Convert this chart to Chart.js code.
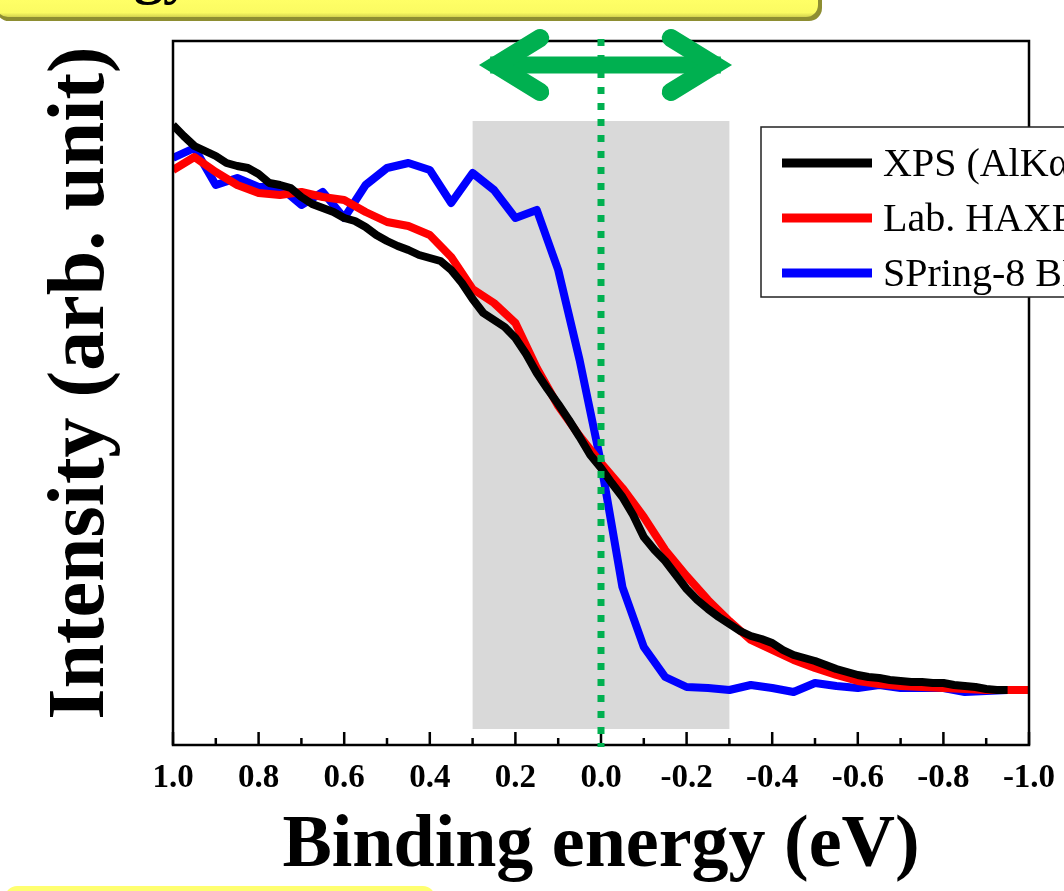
<!DOCTYPE html>
<html><head><meta charset="utf-8">
<script src="https://cdn.jsdelivr.net/npm/chart.js@4.4.1/dist/chart.umd.min.js"></script>
<style>html,body{margin:0;padding:0;background:#fff;overflow:hidden}#wrap{width:1064px;height:891px}</style>
</head><body><div id="wrap"><canvas id="c" width="1064" height="891"></canvas></div>
<script>
const seriesLabels = ['XPS (AlKα)', 'Lab. HAXPES', 'SPring-8 BL46XU'];
const seriesColors = ['#000000', '#ff0000', '#0000ff'];

const xpsEnergy = [1.0,0.975,0.95,0.925,0.9,0.875,0.85,0.825,0.8,0.775,0.75,0.725,0.7,0.675,0.65,0.625,0.6,0.575,0.55,0.525,0.5,0.475,0.45,0.425,0.4,0.375,0.35,0.325,0.3,0.275,0.25,0.225,0.2,0.175,0.15,0.125,0.1,0.075,0.05,0.025,0,-0.025,-0.05,-0.075,-0.1,-0.125,-0.15,-0.175,-0.2,-0.225,-0.25,-0.275,-0.3,-0.325,-0.35,-0.375,-0.4,-0.425,-0.45,-0.475,-0.5,-0.525,-0.55,-0.575,-0.6,-0.625,-0.65,-0.675,-0.7,-0.725,-0.75,-0.775,-0.8,-0.825,-0.85,-0.875,-0.9,-0.925,-0.95];
const xpsIntensity = [620,609,599,594,589,582,579,577,571,562,560,557,548,541,537,533,527,524,518,510,504,499,495,490,487,484,475,462,446,432,425,418,407,391,372,356,341,325,308,290,277,262,248,230,208,195,184,170,156,145,136,128,121,114,109,106,102,95,90,87,84,80,76,73,70,68,67,65,64,63,63,62,62,60,59,58,56,55,55];

const labEnergy = [1.0,0.95,0.9,0.85,0.8,0.75,0.7,0.65,0.6,0.55,0.5,0.45,0.4,0.35,0.3,0.25,0.2,0.15,0.1,0.05,0,-0.05,-0.1,-0.15,-0.2,-0.25,-0.3,-0.35,-0.4,-0.45,-0.5,-0.55,-0.6,-0.65,-0.7,-0.75,-0.8,-0.85,-0.9,-0.95,-1.0];
const labIntensity = [575,588,573,560,552,550,553,548,545,533,523,519,510,488,456,442,422,377,339,309,282,257,228,195,169,145,124,105,95,85,77,70,64,61,59,58,57,56,55,55,55];

const spEnergy = [1.0,0.95,0.9,0.85,0.8,0.75,0.7,0.65,0.6,0.55,0.5,0.45,0.4,0.35,0.3,0.25,0.2,0.15,0.1,0.05,0,-0.05,-0.1,-0.15,-0.2,-0.25,-0.3,-0.35,-0.4,-0.45,-0.5,-0.55,-0.6,-0.65,-0.7,-0.75,-0.8,-0.85,-0.9,-0.95];
const spIntensity = [587,597,560,567,558,558,540,553,527,560,577,582,575,542,572,555,527,535,475,385,282,158,98,68,58,57,55,60,57,53,62,59,57,60,57,57,57,53,54,55];

const xTickValues = [1.0,0.8,0.6,0.4,0.2,0.0,-0.2,-0.4,-0.6,-0.8,-1.0];
const xTickLabels = ['1.0','0.8','0.6','0.4','0.2','0.0','-0.2','-0.4','-0.6','-0.8','-1.0'];
const xMinorTicks = [0.9,0.7,0.5,0.3,0.1,-0.1,-0.3,-0.5,-0.7,-0.9];
const shadeEnergy = [0.3, -0.3];
const shadeIntensity = [16, 624];
const arrowEnergy = [0.287, -0.308];
const fermiEnergy = 0.0;

const GREEN = '#00b050';

function pts(xs, ys){ return xs.map((x,i)=>({x:x, y:ys[i]})); }

const deco = {
  id: 'deco',
  beforeDraw(chart){
    const ctx = chart.ctx;
    ctx.save();
    ctx.fillStyle = '#8e8e32';
    ctx.beginPath(); ctx.roundRect(-4, -40, 826, 61, 13); ctx.fill();
    const g = ctx.createLinearGradient(0, 0, 0, 18);
    g.addColorStop(0, '#ffff66'); g.addColorStop(0.7, '#fbfb62'); g.addColorStop(1, '#c9c94a');
    ctx.fillStyle = g;
    ctx.beginPath(); ctx.roundRect(-4, -40, 822, 57, 12); ctx.fill();
    ctx.fillStyle = '#000';
    ctx.font = 'bold 58px "Liberation Serif"';
    ctx.textAlign = 'right'; ctx.textBaseline = 'alphabetic';
    ctx.fillText('Energy', 192, -7);
    ctx.fillStyle = '#ffff70';
    ctx.beginPath(); ctx.roundRect(5, 886, 430, 30, 12); ctx.fill();
    ctx.restore();
  },
  beforeDatasetsDraw(chart){
    const {ctx, scales:{x, y}} = chart;
    ctx.save();
    ctx.fillStyle = '#d9d9d9';
    const x0 = x.getPixelForValue(shadeEnergy[0]), x1 = x.getPixelForValue(shadeEnergy[1]);
    const y0 = y.getPixelForValue(shadeIntensity[1]), y1 = y.getPixelForValue(shadeIntensity[0]);
    ctx.fillRect(x0, y0, x1 - x0, y1 - y0);
    ctx.restore();
  },
  afterDatasetsDraw(chart){
    const {ctx, chartArea:a, scales:{x, y}} = chart;
    ctx.save();
    ctx.strokeStyle = '#000'; ctx.lineWidth = 2.5;
    ctx.strokeRect(a.left, a.top, a.right - a.left, a.bottom - a.top);
    ctx.lineWidth = 2.5;
    ctx.beginPath();
    xTickValues.forEach(v => { const px = x.getPixelForValue(v); ctx.moveTo(px, a.bottom); ctx.lineTo(px, a.bottom - 13); });
    xMinorTicks.forEach(v => { const px = x.getPixelForValue(v); ctx.moveTo(px, a.bottom); ctx.lineTo(px, a.bottom - 7); });
    ctx.stroke();
    const fx = x.getPixelForValue(fermiEnergy);
    ctx.strokeStyle = GREEN; ctx.lineWidth = 7; ctx.setLineDash([7, 9]);
    ctx.beginPath(); ctx.moveTo(fx, a.top - 2); ctx.lineTo(fx, a.bottom + 2); ctx.stroke();
    ctx.setLineDash([]);
    const ay = 65;
    const lx = x.getPixelForValue(arrowEnergy[0]), rx = x.getPixelForValue(arrowEnergy[1]);
    ctx.strokeStyle = GREEN; ctx.fillStyle = GREEN;
    ctx.lineWidth = 17; ctx.lineCap = 'butt';
    ctx.beginPath(); ctx.moveTo(lx + 12, ay); ctx.lineTo(rx - 12, ay); ctx.stroke();
    ctx.lineWidth = 18; ctx.lineCap = 'round'; ctx.lineJoin = 'miter'; ctx.miterLimit = 10;
    ctx.beginPath();
    ctx.moveTo(lx + 62, ay - 27); ctx.lineTo(lx + 18, ay); ctx.lineTo(lx + 62, ay + 27);
    ctx.stroke();
    ctx.beginPath();
    ctx.moveTo(rx - 62, ay - 27); ctx.lineTo(rx - 18, ay); ctx.lineTo(rx - 62, ay + 27);
    ctx.stroke();
    ctx.restore();
    ctx.save();
    ctx.fillStyle = '#fff';
    ctx.fillRect(761, 127, 340, 170);
    ctx.strokeStyle = '#222'; ctx.lineWidth = 1.5;
    ctx.strokeRect(761, 127, 340, 170);
    ctx.font = '40px "Liberation Serif"';
    ctx.textAlign = 'left'; ctx.textBaseline = 'middle';
    chart.data.datasets.forEach((ds, i) => {
      const cy = 163 + i * 55;
      ctx.strokeStyle = ds.borderColor; ctx.lineWidth = 9; ctx.lineCap = 'butt';
      ctx.beginPath(); ctx.moveTo(782, cy); ctx.lineTo(872, cy); ctx.stroke();
      ctx.fillStyle = '#000';
      ctx.fillText(ds.label, 883, cy + 2);
    });
    ctx.restore();
  }
};

const datasets = [
  {label: seriesLabels[0], data: pts(xpsEnergy, xpsIntensity), borderColor: seriesColors[0], borderWidth: 8},
  {label: seriesLabels[1], data: pts(labEnergy, labIntensity), borderColor: seriesColors[1], borderWidth: 8},
  {label: seriesLabels[2], data: pts(spEnergy, spIntensity), borderColor: seriesColors[2], borderWidth: 8}
].map(d => Object.assign(d, {pointRadius: 0, tension: 0, fill: false, borderJoinStyle: 'round', borderCapStyle: 'butt'}));

new Chart(document.getElementById('c'), {
  type: 'line',
  data: {datasets},
  options: {
    responsive: false, animation: false,
    layout: {padding: {left: 0, top: 41, right: 35, bottom: 0}},
    plugins: {legend: {display: false}, tooltip: {enabled: false}},
    scales: {
      x: {
        type: 'linear', reverse: true, min: -1, max: 1,
        grid: {display: false, drawTicks: false},
        border: {display: false},
        afterBuildTicks: s => { s.ticks = xTickValues.map(v => ({value: v})); },
        afterFit: s => { s.height = 146; s.paddingLeft = 0; s.paddingRight = 0; },
        ticks: {
          autoSkip: false, maxRotation: 0, padding: 14, color: '#000',
          font: {family: '"Liberation Serif"', weight: 'bold', size: 33},
          callback: v => { const i = xTickValues.findIndex(t => Math.abs(t - v) < 1e-6); return i >= 0 ? xTickLabels[i] : ''; }
        },
        title: {display: true, text: 'Binding energy (eV)', color: '#000', padding: {top: 0, bottom: 0},
          font: {family: '"Liberation Serif"', weight: 'bold', size: 74, lineHeight: 1.2}}
      },
      y: {
        min: 0, max: 704,
        grid: {display: false, drawTicks: false},
        border: {display: false},
        ticks: {display: false},
        afterFit: s => { s.width = 173; s.paddingTop = 0; s.paddingBottom = 0; },
        title: {display: true, text: ' Intensity (arb. unit)', color: '#000', padding: {top: 34, bottom: 0},
          font: {family: '"Liberation Serif"', weight: 'bold', size: 80, lineHeight: 1.2}}
      }
    }
  },
  plugins: [deco]
});
</script>
</body></html>
